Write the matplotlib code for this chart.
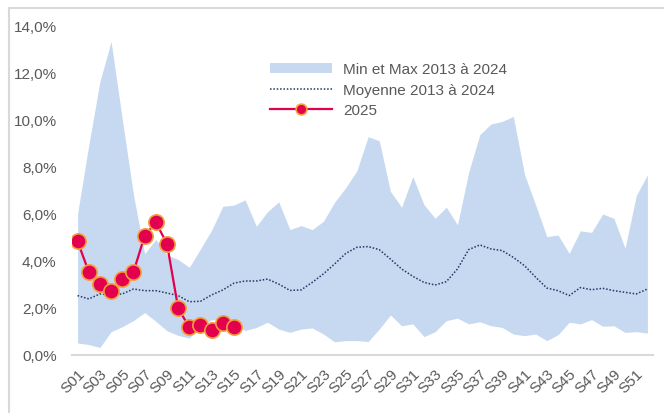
import numpy as np
from matplotlib import pyplot as plt
from matplotlib.patches import Rectangle

weeks = [f"S{i:02d}" for i in range(1, 53)]

max_2013_2024 = [
    6.0, 8.9, 11.6, 13.3, 10.0, 6.8, 4.3, 4.9, 4.25, 4.05,
    3.72, 4.5, 5.3, 6.31, 6.36, 6.58, 5.46, 6.08, 6.5, 5.32,
    5.49, 5.32, 5.67, 6.48, 7.1, 7.82, 9.26, 9.09, 6.94, 6.27,
    7.57, 6.38, 5.8, 6.27, 5.52, 7.75, 9.35, 9.8, 9.91, 10.12,
    7.66, 6.36, 5.02, 5.09, 4.31, 5.27, 5.2, 5.98, 5.8, 4.53,
    6.76, 7.65,
]
min_2013_2024 = [
    0.51, 0.44, 0.32, 0.99, 1.2, 1.46, 1.8, 1.43, 1.03, 0.83,
    0.72, 1.2, 1.5, 1.45, 1.3, 1.04, 1.17, 1.39, 1.1, 0.96,
    1.1, 1.15, 0.89, 0.56, 0.61, 0.61, 0.57, 1.1, 1.7, 1.24,
    1.32, 0.78, 0.99, 1.46, 1.56, 1.32, 1.41, 1.24, 1.17, 0.89,
    0.82, 0.89, 0.61, 0.86, 1.39, 1.32, 1.5, 1.22, 1.24, 0.96,
    0.99, 0.93,
]
moyenne_2013_2024 = [
    2.52, 2.38, 2.59, 2.55, 2.59, 2.8, 2.73, 2.73, 2.63, 2.52,
    2.26, 2.28, 2.55, 2.76, 3.05, 3.14, 3.14, 3.22, 3.01, 2.74,
    2.76, 3.08, 3.44, 3.86, 4.31, 4.57, 4.6, 4.47, 4.07, 3.65,
    3.34, 3.08, 2.97, 3.11, 3.65, 4.47, 4.67, 4.5, 4.43, 4.14,
    3.79, 3.3, 2.84, 2.73, 2.52, 2.86, 2.77, 2.83, 2.73, 2.66,
    2.59, 2.8,
]
annee_2025 = [
    4.82, 3.53, 3.0, 2.73, 3.21, 3.52, 5.05, 5.63, 4.72, 1.99,
    1.17, 1.29, 1.07, 1.36, 1.19,
]

plt.rcParams["font.family"] = ["Liberation Sans", "DejaVu Sans"]
text_color = "#595959"

fig = plt.figure(figsize=(6.64, 4.14), dpi=100)
ax = fig.add_axes([72 / 664, 58 / 414, 581 / 664, 330 / 414])

x = np.arange(1, len(weeks) + 1)
ax.fill_between(x, min_2013_2024, max_2013_2024, color="#C6D9F0",
                linewidth=0, label="Min et Max 2013 à 2024")
ax.plot(x, moyenne_2013_2024, color="#1F3864", linestyle=(0, (1, 1.2)),
        linewidth=1.1, label="Moyenne 2013 à 2024")
x25 = np.arange(1, len(annee_2025) + 1)
ax.plot(x25, annee_2025, color="#E2004F", linewidth=1.6, marker="o",
        markersize=11, markerfacecolor="#E2004F", markeredgecolor="#F2A03C",
        markeredgewidth=1.2, label="2025", zorder=5)

ax.set_xlim(0.5, len(weeks) + 0.5)
ax.set_ylim(0, 14)
ax.set_yticks(np.arange(0, 15, 2))
ax.set_yticklabels([f"{v:.1f}%".replace(".", ",") for v in np.arange(0, 15, 2)])
ax.set_xticks(x[::2])
ax.set_xticklabels(weeks[::2], rotation=45, ha="right", rotation_mode="anchor")
ax.tick_params(length=0, labelsize=11, colors=text_color)
ax.tick_params(axis="y", pad=11)
ax.tick_params(axis="x", pad=8)

for side in ["left", "top", "right"]:
    ax.spines[side].set_visible(False)
ax.spines["bottom"].set_color("#D9D9D9")
ax.spines["bottom"].set_linewidth(1.5)

leg = ax.legend(loc="upper left", bbox_to_anchor=(0.33, 0.905), frameon=False,
                fontsize=11, handlelength=4.1, labelspacing=0.42,
                handletextpad=0.7, borderaxespad=0, markerscale=0.7)
for t in leg.get_texts():
    t.set_color(text_color)

fig.patches.append(Rectangle((9 / 664, -0.1), 1.2, (414 - 9) / 414 + 0.1,
                             transform=fig.transFigure, fill=False,
                             edgecolor="#D9D9D9", linewidth=1.5))

fig.savefig("out.png", dpi=100)
